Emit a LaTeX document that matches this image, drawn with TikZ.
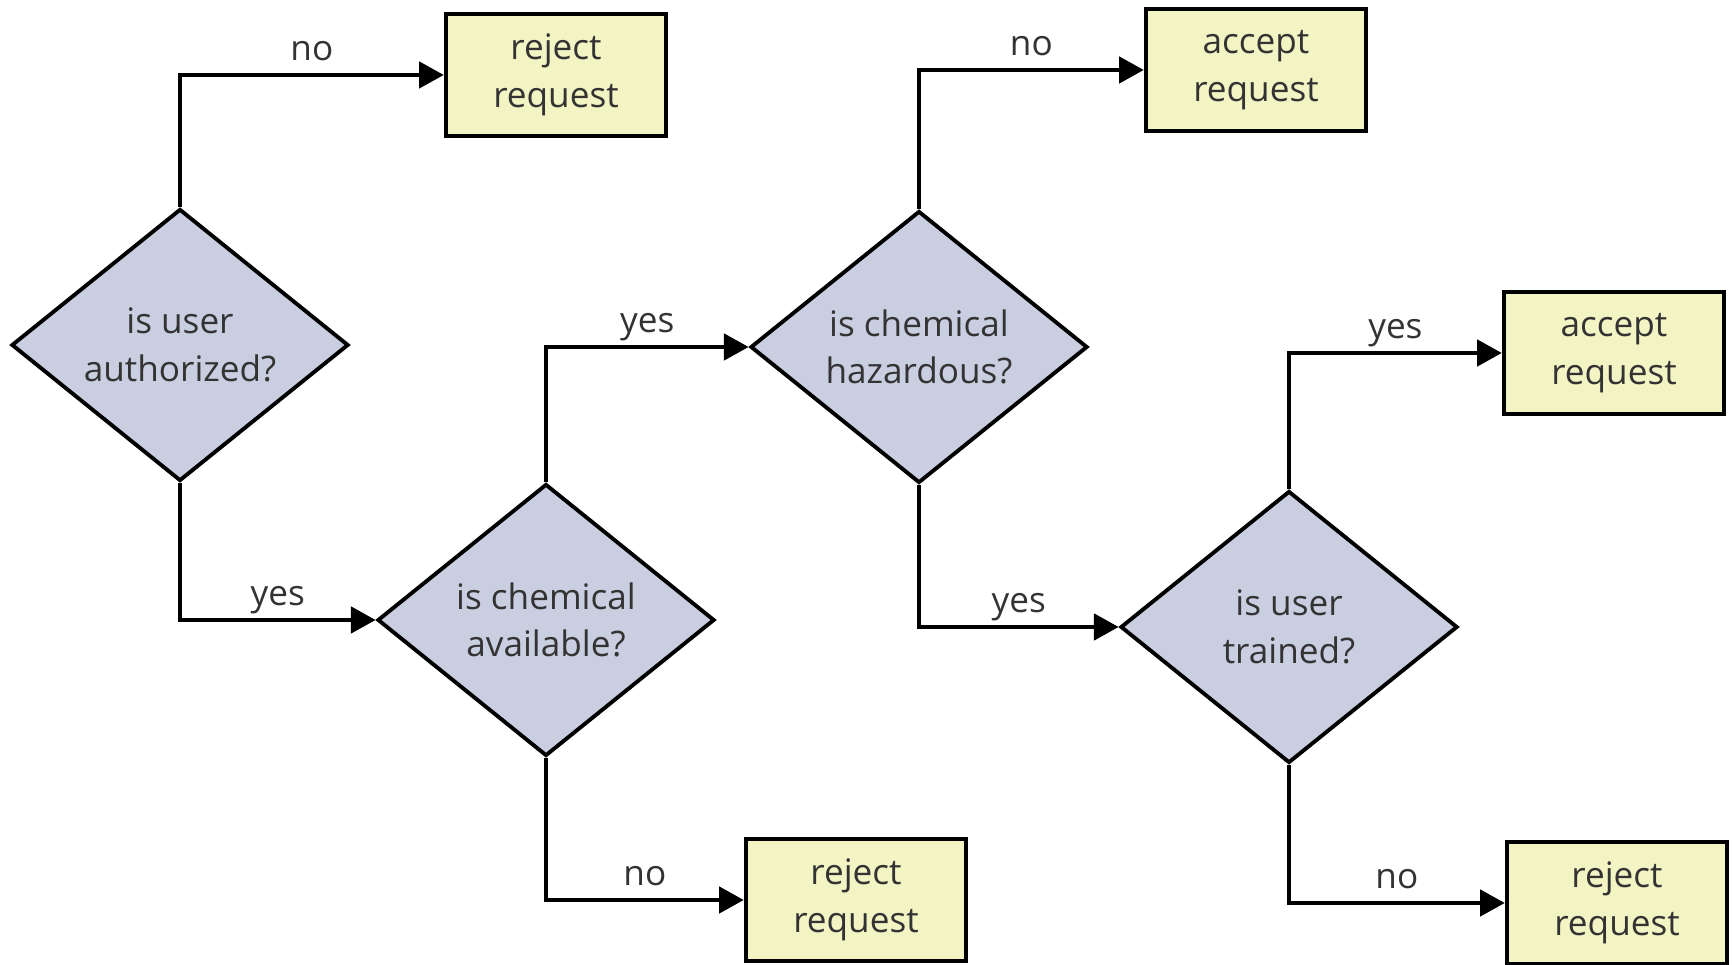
\documentclass[tikz,border=0pt]{standalone}
\usepackage{fontspec}
\setmainfont{Open Sans}
\usetikzlibrary{shapes.geometric,arrows.meta}
\definecolor{qfill}{RGB}{201,206,225}
\definecolor{rfill}{RGB}{242,244,196}
\definecolor{txt}{RGB}{51,51,51}

\begin{document}
\begin{tikzpicture}[
        question/.style={diamond, draw=black, line width=1.1pt, fill=qfill,
            text=txt, align=center, inner sep=0pt,
            minimum width=3.37cm, minimum height=2.72cm,
            font=\fontsize{10}{13.5}\selectfont},
        outcome/.style={rectangle, draw=black, line width=1.3pt, fill=rfill,
            text=txt, align=center, minimum width=2.2cm, minimum height=1.22cm,
            font=\fontsize{10}{13.5}\selectfont},
        flow/.style={draw=black, line width=1pt,
            -{Triangle[length=7pt,width=7.5pt]}},
        answer/.style={above, pos=0.75, text=txt, text depth=0pt,
            inner sep=3.5pt, font=\fontsize{10}{12}\selectfont}
    ]
        \useasboundingbox (0,0) rectangle (17.33,9.65);

        % 1. Questions
        \node[question] (auth)   at (1.80, 6.20) {is user\\authorized?};
        \node[question] (avail)  at (5.46, 3.45) {is chemical\\available?};
        \node[question] (hazard) at (9.19, 6.18) {is chemical\\hazardous?};
        \node[question] (train)  at (12.89, 3.38) {is user\\trained?};

        % 2. Outcomes
        \node[outcome] (rejA) at (5.56, 8.90)  {reject\\request};
        \node[outcome] (accA) at (12.56, 8.95) {accept\\request};
        \node[outcome] (accB) at (16.14, 6.12) {accept\\request};
        \node[outcome] (rejB) at (8.56, 0.65)  {reject\\request};
        \node[outcome] (rejC) at (16.17, 0.62) {reject\\request};

        % 3. Connectors
        \draw[flow] (auth.north)   |- node[answer] {no}  (rejA.west);
        \draw[flow] (auth.south)   |- node[answer] {yes} (avail.west);
        \draw[flow] (avail.north)  |- node[answer] {yes} (hazard.west);
        \draw[flow] (avail.south)  |- node[answer] {no}  (rejB.west);
        \draw[flow] (hazard.north) |- node[answer] {no}  (accA.west);
        \draw[flow] (hazard.south) |- node[answer] {yes} (train.west);
        \draw[flow] (train.north)  |- node[answer] {yes} (accB.west);
        \draw[flow] (train.south)  |- node[answer] {no}  (rejC.west);
    \end{tikzpicture}
\end{document}
